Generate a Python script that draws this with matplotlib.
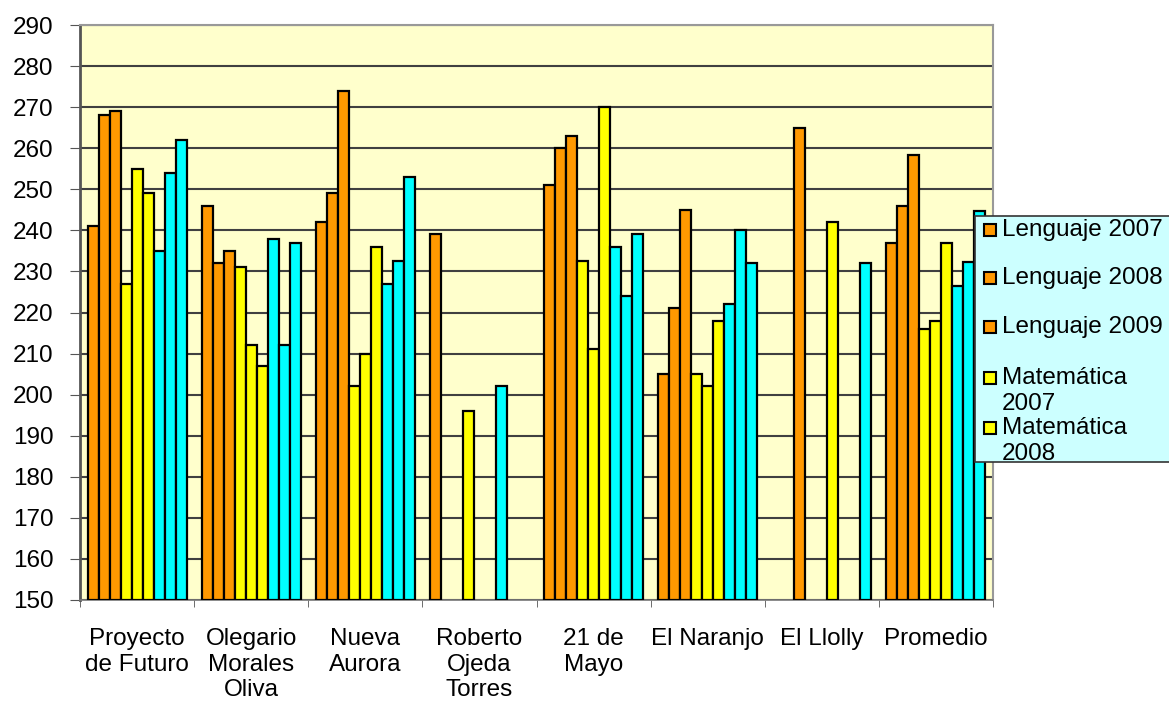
import numpy as np
import matplotlib
matplotlib.use("Agg")
import matplotlib.pyplot as plt
from matplotlib.patches import Rectangle

plt.rcParams['font.family'] = ['Liberation Sans', 'DejaVu Sans']

schools = ['Proyecto\nde Futuro', 'Olegario\nMorales\nOliva', 'Nueva\nAurora',
           'Roberto\nOjeda\nTorres', '21 de\nMayo', 'El Naranjo', 'El Llolly', 'Promedio']

nan = np.nan
leng_2007 = [241, 246, 242, 239, 251, 205, nan, 237]
leng_2008 = [268, 232, 249, nan, 260, 221, nan, 246]
leng_2009 = [269, 235, 274, nan, 263, 245, 265, 258.4]
mate_2007 = [227, 231, 202, 196, 232.6, 205, nan, 216]
mate_2008 = [255, 212, 210, nan, 211, 202, nan, 218]
mate_2009 = [249, 207, 236, nan, 270, 218, 242, 237]
comp_2007 = [235, 238, 227, 202, 236, 222, nan, 226.5]
comp_2008 = [254, 212, 232.6, nan, 224, 240, nan, 232.2]
comp_2009 = [262, 237, 253, nan, 239, 232, 232, 244.6]

series = [leng_2007, leng_2008, leng_2009,
          mate_2007, mate_2008, mate_2009,
          comp_2007, comp_2008, comp_2009]
colors = ['#FF9900'] * 3 + ['#FFFF00'] * 3 + ['#00FFFF'] * 3
legend_labels = ['Lenguaje 2007', 'Lenguaje 2008', 'Lenguaje 2009',
                 'Matemática\n2007', 'Matemática\n2008']

fig = plt.figure(figsize=(11.69, 7.02), dpi=100)
ax = fig.add_axes([80 / 1169, 102 / 702, 913 / 1169, 575 / 702])
ax.set_facecolor('#FFFFCC')

base = 150
x = np.arange(len(schools))
w = 0.0965
for j, (vals, c) in enumerate(zip(series, colors)):
    v = np.array(vals, dtype=float)
    ax.bar(x + (j - 4) * w, v - base, w, bottom=base, color=c,
           edgecolor='black', linewidth=1.6, zorder=3)

ax.set_xlim(-0.5, len(schools) - 0.5)
ax.set_ylim(150, 290)
ax.set_yticks(np.arange(150, 291, 10))
ax.yaxis.grid(True, color='#404040', linewidth=1.5, zorder=0)
ax.set_axisbelow(True)

ax.set_xticks(x)
ax.set_xticklabels(schools, fontsize=17.5, linespacing=1.22)
ax.set_xticks(np.arange(-0.5, len(schools)), minor=True)
ax.tick_params(axis='x', which='major', length=0, pad=20)
ax.tick_params(axis='x', which='minor', length=5, color='#555555')
ax.tick_params(axis='y', length=7, color='#555555', labelsize=17.5, pad=12)

for s in ['top', 'right']:
    ax.spines[s].set_color('#999999')
    ax.spines[s].set_linewidth(1.5)
ax.spines['left'].set_color('#555555')
ax.spines['left'].set_linewidth(2)
ax.spines['bottom'].set_color('#777777')
ax.spines['bottom'].set_linewidth(1.2)

# legend box, cut off at the bottom like in the original
W, H = 1169.0, 702.0
box = Rectangle((975 / W, 1 - 462 / H), 200 / W, 246 / H, transform=fig.transFigure,
                facecolor='#CCFFFF', edgecolor='#333333', linewidth=1.2, zorder=10)
fig.add_artist(box)
rows_y = [230, 278, 327, 378, 428]
for lab, c, ry in zip(legend_labels, colors, rows_y):
    mk = Rectangle((984 / W, 1 - (ry + 6) / H), 12 / W, 12 / H, transform=fig.transFigure,
                   facecolor=c, edgecolor='black', linewidth=1.5, zorder=11)
    fig.add_artist(mk)
    t = fig.text(1002 / W, 1 - (ry - 11) / H, lab, fontsize=17.5, va='top', ha='left',
                 linespacing=1.22, zorder=12)
    t.set_clip_path(box)

fig.savefig('out.png', dpi=100)
